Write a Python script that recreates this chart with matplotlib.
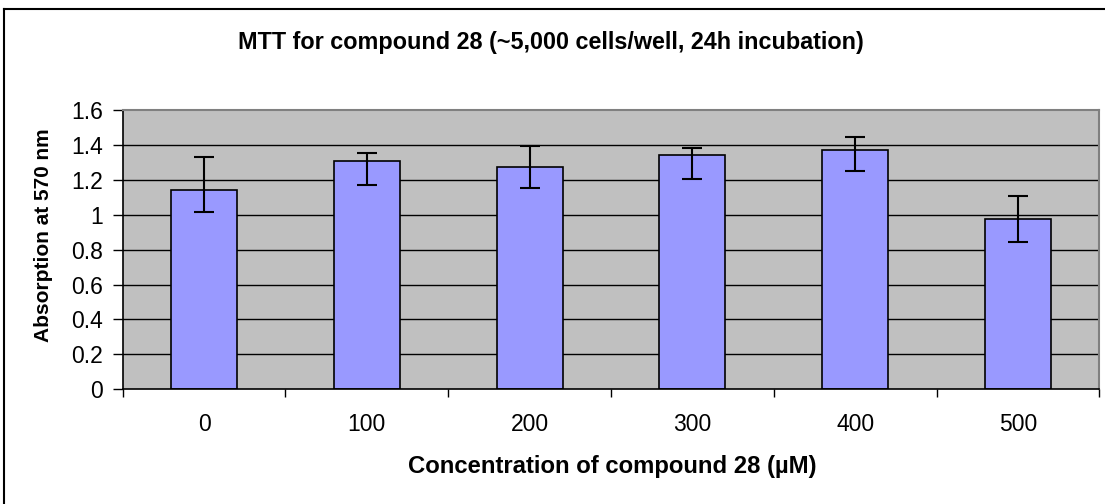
import matplotlib
matplotlib.use("Agg")
import matplotlib.pyplot as plt
from matplotlib.lines import Line2D
import numpy as np

plt.rcParams['font.family'] = ['Liberation Sans', 'DejaVu Sans']

# Data
concentrations = ["0", "100", "200", "300", "400", "500"]
absorption = [1.143, 1.309, 1.276, 1.342, 1.372, 0.975]
err_upper = [0.187, 0.044, 0.119, 0.042, 0.076, 0.133]
err_lower = [0.128, 0.138, 0.124, 0.136, 0.124, 0.129]
y_ticks = [0, 0.2, 0.4, 0.6, 0.8, 1, 1.2, 1.4, 1.6]
y_tick_labels = ["0", "0.2", "0.4", "0.6", "0.8", "1", "1.2", "1.4", "1.6"]

W, H = 1105, 504
fig = plt.figure(figsize=(W / 100, H / 100), dpi=100)
fig.patch.set_facecolor("white")

# Chart-area frame (runs off the right and bottom edges)
fig.add_artist(Line2D([4 / W, 4 / W], [0, 1 - 9 / H], transform=fig.transFigure,
                      color="black", lw=1.5))
fig.add_artist(Line2D([4 / W, 1], [1 - 9 / H, 1 - 9 / H], transform=fig.transFigure,
                      color="black", lw=1.5))

left, right, top, bottom = 122.7, 1099.3, 110.0, 389.3
ax = fig.add_axes([left / W, 1 - bottom / H, (right - left) / W, (bottom - top) / H])
ax.set_facecolor("#C0C0C0")

x = np.arange(len(concentrations))
for yv in y_ticks[1:-1]:
    ax.axhline(yv, color="black", lw=1.0, zorder=1)

ax.bar(x, absorption, width=0.405, color="#9999FF", edgecolor="black", linewidth=1.2, zorder=2)
ax.errorbar(x, absorption, yerr=[err_lower, err_upper], fmt="none", ecolor="black",
            elinewidth=1.5, capsize=7, capthick=1.5, zorder=3)

ax.set_xlim(-0.5, len(concentrations) - 0.5)
ax.set_ylim(0, 1.6)

ax.set_yticks(y_ticks)
ax.set_yticklabels(y_tick_labels, fontsize=16.5)
ax.tick_params(axis="y", direction="out", length=7, width=1, pad=7, colors="black")

# Category ticks at the boundaries, labels at the centres
ax.set_xticks(np.arange(-0.5, len(concentrations), 1.0))
ax.set_xticklabels([])
ax.set_xticks(x, minor=True)
ax.set_xticklabels(concentrations, minor=True, fontsize=16.5)
ax.tick_params(axis="x", which="major", direction="out", length=6, width=1)
ax.tick_params(axis="x", which="minor", length=0, pad=17)

for side in ["left", "bottom"]:
    ax.spines[side].set_color("black")
    ax.spines[side].set_linewidth(1.2)
for side in ["top", "right"]:
    ax.spines[side].set_color("#808080")
    ax.spines[side].set_linewidth(1.5)

fig.text(551 / W, 1 - 43 / H, "MTT for compound 28 (~5,000 cells/well, 24h incubation)",
         ha="center", va="center", fontsize=16.8, fontweight="bold")
fig.text(612 / W, 1 - 467 / H, "Concentration of compound 28 (\u00b5M)",
         ha="center", va="center", fontsize=17.2, fontweight="bold")
fig.text(44 / W, 1 - 235 / H, "Absorption at 570 nm", rotation=90,
         ha="center", va="center", fontsize=15, fontweight="bold")

fig.savefig("out.png", dpi=100)
